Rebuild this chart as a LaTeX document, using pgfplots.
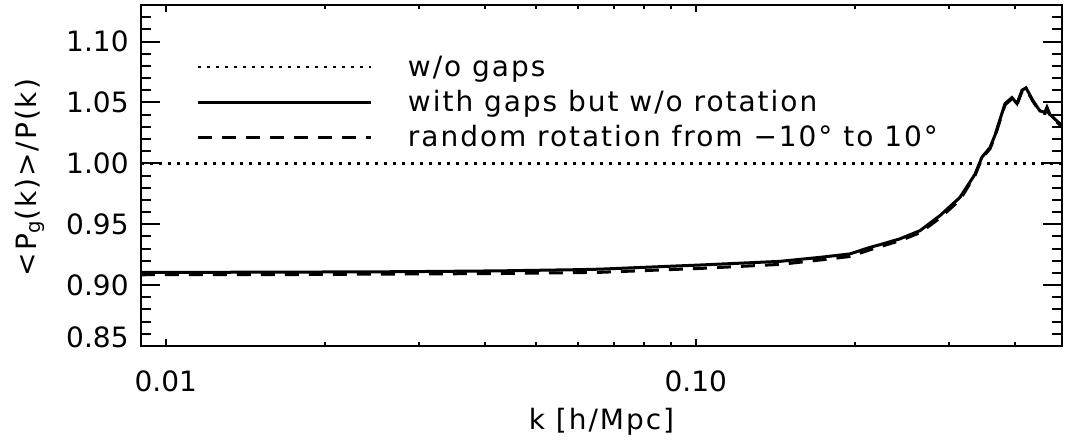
\documentclass[border=0pt]{standalone}
\usepackage{fontspec}
\setmainfont{DejaVu Sans}[LetterSpace=7]
\newfontfamily\tickfont{DejaVu Sans}
\usepackage{pgfplots}
\pgfplotsset{compat=1.18}
\pgfplotsset{minorystrip/.style={
  scale only axis, width=5pt, height=170.5pt,
  xmin=0, xmax=1, ymin=0.85, ymax=1.13,
  axis line style={draw=none},
  xtick=\empty,
  ytick={0.86,0.87,0.88,0.89,0.91,0.92,0.93,0.94,0.96,0.97,0.98,0.99,1.01,1.02,1.03,1.04,1.06,1.07,1.08,1.09,1.11,1.12},
  yticklabels={},
  major tick length=0pt,
  tick style={draw=none},
  ymajorgrids=true,
  major grid style={black, line width=1pt},
}}
\begin{document}
\begin{tikzpicture}
\useasboundingbox (-70.5pt,-46.5pt) rectangle (462pt,173pt);
\begin{axis}[
  scale only axis, width=460.5pt, height=170.5pt,
  xmode=log, xmin=0.00898, xmax=0.4911, ymin=0.85, ymax=1.13,
  axis line style={line width=1pt},
  xtick={0.01,0.1}, xticklabels={0.01,0.10},
  minor xtick={0.02,0.03,0.04,0.05,0.06,0.07,0.08,0.09,0.2,0.3,0.4},
  ytick={0.85,0.90,0.95,1.00,1.05,1.10},
  yticklabels={\raisebox{4.5pt}[\height][\depth]{0.85},0.90,0.95,1.00,1.05,1.10},
  tick align=inside,
  major tick length=9.5pt, minor tick length=2.2pt,
  xtick style={/pgfplots/major tick length=3.3pt},
  tick style={line width=1pt, black},
  minor tick style={line width=1pt, black},
  tick label style={font=\tickfont\fontsize{14}{16}\selectfont},
  yticklabel style={inner sep=0pt, xshift=-6pt},
  xticklabel style={inner sep=0pt, yshift=-12pt},
  label style={font=\fontsize{14}{16}\selectfont},
  xlabel={k [h/Mpc]},
  xlabel style={at={(axis description cs:0.5,0)}, anchor=center, yshift=-38pt},
  ylabel={<P\textsubscript{g}(k)>/P(k)},
  ylabel style={at={(axis description cs:-0.1205,0.494)}, anchor=center},
  legend style={at={(axis description cs:0,1)}, anchor=north west,
    xshift=28pt, yshift=-24.5pt, draw=none, fill=none, inner sep=0pt, outer sep=0pt,
    row sep=3pt, column sep=17.5pt,
    font=\fontsize{14}{16}\selectfont,
    cells={anchor=base west},
    nodes={inner sep=0pt, text height=11pt, text depth=3.5pt}},
  legend image code/.code={\draw[#1] (0pt,4.5pt) -- (86.5pt,4.5pt);},
]
\addplot[black, line width=1.3pt, dash pattern=on 1.3pt off 3.2pt] coordinates {(0.00898,1.0) (0.4911,1.0)};
\addlegendentry{w/o gaps}
\addplot[black, line width=1.5pt] coordinates {
(0.00898,0.9104) (0.0117,0.9105) (0.018,0.9107) (0.0277,0.9110) (0.0427,0.9117)
(0.0605,0.9127) (0.0660,0.9131) (0.1019,0.9165) (0.1442,0.9195) (0.1716,0.9228)
(0.1954,0.9256) (0.2132,0.931) (0.2227,0.9332) (0.2429,0.938) (0.2650,0.9447)
(0.2889,0.957) (0.3152,0.972) (0.3365,0.991) (0.3468,1.005) (0.3592,1.013)
(0.3670,1.023) (0.3834,1.049) (0.3952,1.054) (0.4039,1.049) (0.4127,1.060)
(0.4200,1.062) (0.4328,1.0515) (0.4462,1.043) (0.4561,1.042) (0.4600,1.046)
(0.4661,1.040) (0.4826,1.034) (0.4911,1.031)};
\addlegendentry{with gaps but w/o rotation}
\addplot[black, line width=1.5pt, dash pattern=on 7pt off 5pt] coordinates {
(0.00898,0.9085) (0.018,0.9087) (0.0427,0.9095) (0.0660,0.9105) (0.1019,0.9137)
(0.1442,0.917) (0.1716,0.9206) (0.1954,0.9235) (0.2132,0.929) (0.2429,0.9365)
(0.2650,0.943) (0.2889,0.955) (0.3152,0.970) (0.3365,0.990) (0.3468,1.004)
(0.3592,1.012) (0.3670,1.022) (0.3834,1.048) (0.3952,1.053) (0.4039,1.048)
(0.4127,1.059) (0.4200,1.061) (0.4328,1.051) (0.4462,1.042) (0.4561,1.041)
(0.4600,1.045) (0.4661,1.039) (0.4826,1.033) (0.4911,1.030)};
\addlegendentry{random rotation from −10° to 10°}
\end{axis}
\begin{axis}[minorystrip, at={(0pt,0pt)}, anchor=south west]
\addplot[draw=none] coordinates {(0.5,1.0)};
\end{axis}
\begin{axis}[minorystrip, at={(460.5pt,0pt)}, anchor=south east]
\addplot[draw=none] coordinates {(0.5,1.0)};
\end{axis}
\end{tikzpicture}
\end{document}
